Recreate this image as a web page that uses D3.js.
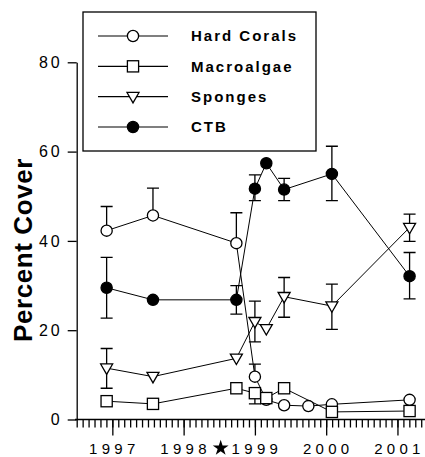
<!DOCTYPE html>
<html>
<head>
<meta charset="utf-8">
<script src="https://cdn.jsdelivr.net/npm/d3@7"></script>
<style>
  html, body { margin: 0; padding: 0; background: #fff; }
  svg { display: block; }
  svg text { font-family: "Liberation Sans", Arial, Helvetica, sans-serif; }
</style>
</head>
<body>
<div id="chart"></div>
<script>
// sampling dates (decimal years)
const dates = [1996.92, 1997.57, 1998.74, 1999.0, 1999.16, 1999.41, 1999.75, 2000.08, 2001.17];

const hardCorals      = [42.3, 45.7, 39.5, 9.6, 4.4, 3.2, 3.0, 3.4, 4.4];
const hardCoralsUp    = [5.4, 6.1, 6.8, 2.8, 0, 0, 0, 0, 0];
const hardCoralsDown  = [0, 0, 0, 0, 0, 0, 0, 0, 0];

const macroalgae      = [4.1, 3.5, 7.0, 5.9, 4.8, 7.0, null, 1.7, 1.9];
const macroalgaeUp    = [0, 0, 0, 0, 0, 0, 0, 0, 0];
const macroalgaeDown  = [0, 0, 0, 2.4, 0, 0, 0, 0, 0];

const sponges         = [11.5, 9.6, 13.7, 21.9, 20.3, 27.5, null, 25.4, 43.0];
const spongesUp       = [4.4, 0, 0, 4.6, 0, 4.3, 0, 4.9, 3.0];
const spongesDown     = [4.5, 0, 0, 4.5, 0, 4.6, 0, 5.2, 3.1];

const ctb             = [29.5, 26.8, 26.8, 51.7, 57.4, 51.5, null, 55.0, 32.1];
const ctbUp           = [6.8, 0, 3.2, 3.1, 0, 2.5, 0, 6.2, 5.3];
const ctbDown         = [6.8, 0, 3.2, 2.7, 0, 2.5, 0, 6.0, 5.1];

const seriesNames = ['Hard Corals', 'Macroalgae', 'Sponges', 'CTB'];
const yearTicks = [1997, 1998, 1999, 2000, 2001];
const yTicks = [0, 20, 40, 60, 80];
const starDate = 1998.52;

const width = 425;
const height = 457;
const fontFamily = '"Liberation Sans", Arial, Helvetica, sans-serif';

const svg = d3.select('#chart')
  .append('svg')
    .attr('width', width)
    .attr('height', height);

const x = d3.scaleLinear().domain([1996.5, 2001.5]).range([76.7, 433.1]);
const y = d3.scaleLinear().domain([0, 80]).range([419.5, 62.3]);

const series = [
  { name: seriesNames[0], vals: hardCorals, up: hardCoralsUp, down: hardCoralsDown, shape: 'circle', fill: '#fff' },
  { name: seriesNames[1], vals: macroalgae, up: macroalgaeUp, down: macroalgaeDown, shape: 'square', fill: '#fff' },
  { name: seriesNames[2], vals: sponges, up: spongesUp, down: spongesDown, shape: 'triangle', fill: '#fff' },
  { name: seriesNames[3], vals: ctb, up: ctbUp, down: ctbDown, shape: 'circle', fill: '#000' }
];

function drawMarker(g, shape, fill) {
  if (shape === 'circle') {
    g.append('circle').attr('r', 5.6);
  } else if (shape === 'square') {
    g.append('rect').attr('x', -5.6).attr('y', -5.6).attr('width', 11.2).attr('height', 11.2);
  } else {
    g.append('path').attr('d', 'M-6,-4.2L6,-4.2L0,6.2Z');
  }
  g.selectAll('*')
    .attr('fill', fill)
    .attr('stroke', '#000')
    .attr('stroke-width', 1.3);
}

// axes
const minorTicks = d3.range(0, 61).map(i => 1996.5 + i / 12);
svg.append('g')
  .attr('transform', `translate(0,${y(0)})`)
  .call(d3.axisBottom(x).tickValues(minorTicks).tickSize(8).tickSizeOuter(0).tickFormat(''))
  .call(g => g.select('.domain').attr('d', `M75,0H${width}`));

const xMajor = svg.append('g')
  .attr('transform', `translate(0,${y(0)})`)
  .attr('font-family', fontFamily)
  .call(d3.axisBottom(x).tickValues(yearTicks).tickSize(16).tickPadding(8).tickFormat(d3.format('d')));
xMajor.select('.domain').remove();
xMajor.selectAll('text')
  .attr('font-size', 15)
  .attr('letter-spacing', 4.3)
  .attr('dx', 1.5)
  .attr('fill', '#000');

svg.append('path')
  .attr('d', d3.symbol(d3.symbolStar, 78)())
  .attr('transform', `translate(${x(starDate)},448)`)
  .attr('fill', '#000');

const yAxis = svg.append('g')
  .attr('transform', `translate(${x(1996.5)},0)`)
  .attr('font-family', fontFamily)
  .call(d3.axisLeft(y).tickValues(yTicks).tickSize(9).tickSizeOuter(0).tickPadding(5));
yAxis.selectAll('text')
  .attr('font-size', 16)
  .attr('letter-spacing', 3)
  .attr('fill', '#000');

svg.selectAll('.domain, .tick line')
  .attr('stroke', '#000')
  .attr('stroke-width', 1.3);

svg.append('text')
  .attr('transform', 'translate(32,250) rotate(-90)')
  .attr('text-anchor', 'middle')
  .attr('font-size', 26)
  .attr('font-weight', 'bold')
  .attr('letter-spacing', 0.6)
  .text('Percent Cover');

// series lines
const line = d3.line().x(d => x(d.t)).y(d => y(d.v));
series.forEach(s => {
  s.pts = dates.map((t, i) => ({ t, v: s.vals[i], up: s.up[i], down: s.down[i] }))
    .filter(d => d.v !== null);
  svg.append('path')
    .datum(s.pts)
    .attr('d', line)
    .attr('fill', 'none')
    .attr('stroke', '#000')
    .attr('stroke-width', 1);
});

// error bars
series.forEach(s => {
  s.pts.forEach(d => {
    [[d.up, 1], [d.down, -1]].forEach(([e, sign]) => {
      if (!e) return;
      const ye = y(d.v + sign * e);
      svg.append('path')
        .attr('d', `M${x(d.t)},${y(d.v)}V${ye}M${x(d.t) - 6},${ye}H${x(d.t) + 6}`)
        .attr('fill', 'none')
        .attr('stroke', '#000')
        .attr('stroke-width', 1.3);
    });
  });
});

// markers
series.forEach(s => {
  s.pts.forEach(d => {
    const g = svg.append('g').attr('transform', `translate(${x(d.t)},${y(d.v)})`);
    drawMarker(g, s.shape, s.fill);
  });
});

// legend
const legend = svg.append('g');
legend.append('rect')
  .attr('x', 83).attr('y', 12)
  .attr('width', 233).attr('height', 139)
  .attr('fill', '#fff')
  .attr('stroke', '#000')
  .attr('stroke-width', 1.3);

const rowY = d3.scalePoint().domain(seriesNames).range([36, 127]);
series.forEach(s => {
  const ry = rowY(s.name);
  legend.append('line')
    .attr('x1', 98).attr('x2', 168)
    .attr('y1', ry).attr('y2', ry)
    .attr('stroke', '#000')
    .attr('stroke-width', 1.2);
  const g = legend.append('g').attr('transform', `translate(133,${ry})`);
  drawMarker(g, s.shape, s.fill);
  legend.append('text')
    .attr('x', 191)
    .attr('y', ry)
    .attr('dy', '0.36em')
    .attr('font-size', 15)
    .attr('font-weight', 'bold')
    .attr('letter-spacing', 2)
    .text(s.name);
});
</script>
</body>
</html>
